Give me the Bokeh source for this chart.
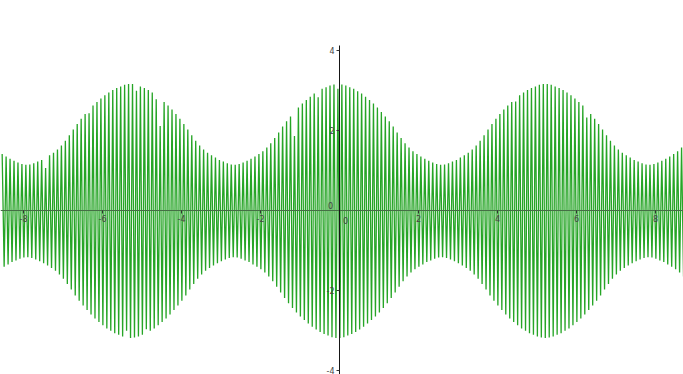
import numpy as np
from bokeh.plotting import figure
from bokeh.models import Range1d, FixedTicker, Label
from bokeh.embed import file_html
from bokeh.resources import INLINE

# ---- data ----
x_ticks = [-8, -6, -4, -2, 2, 4, 6, 8]
y_ticks = [-4, -2, 2, 4]

# the curve oscillates quickly: successive upper tips every 0.1 units,
# lower tips half-way in between
tip_start = -8.54
tip_step = 0.1

top_tips = [
    1.40, 1.34, 1.28, 1.23, 1.19, 1.15, 1.13, 1.14, 1.17, 1.21,
    1.25, 1.05, 1.37, 1.43, 1.51, 1.61, 1.73, 1.87, 2.01, 2.15,
    2.28, 2.40, 2.42, 2.61, 2.70, 2.79, 2.87, 2.94, 3.00, 3.05,
    3.09, 3.13, 3.15, 3.15, 2.98, 3.09, 3.05, 3.00, 2.94, 2.77,
    2.10, 2.70, 2.61, 2.51, 2.40, 2.28, 2.15, 2.01, 1.87, 1.73,
    1.61, 1.51, 1.43, 1.37, 1.31, 1.25, 1.21, 1.17, 1.14, 1.13,
    1.15, 1.19, 1.23, 1.28, 1.34, 1.40, 1.47, 1.56, 1.67, 1.80,
    1.94, 2.09, 2.22, 2.34, 1.85, 2.56, 2.66, 2.75, 2.83, 2.91,
    2.82, 3.03, 3.07, 3.11, 3.14, 3.03, 3.14, 3.11, 3.07, 3.03,
    2.97, 2.91, 2.83, 2.75, 2.66, 2.56, 2.45, 2.34, 2.22, 2.09,
    1.94, 1.80, 1.67, 1.56, 1.47, 1.40, 1.34, 1.28, 1.23, 1.19,
    1.15, 1.13, 1.14, 1.17, 1.21, 1.25, 1.31, 1.37, 1.43, 1.51,
    1.61, 1.73, 1.87, 2.01, 2.15, 2.28, 2.40, 2.51, 2.61, 2.70,
    2.71, 2.87, 2.94, 3.00, 3.05, 3.09, 3.13, 3.15, 3.15, 3.13,
    3.09, 3.05, 3.00, 2.94, 2.87, 2.79, 2.70, 2.61, 2.31, 2.40,
    2.28, 2.15, 2.01, 1.87, 1.73, 1.61, 1.51, 1.43, 1.37, 1.31,
    1.25, 1.21, 1.17, 1.14, 1.13, 1.15, 1.19, 1.23, 1.28, 1.34,
    1.40, 1.47, 1.56,
]

bottom_tips = [
    -1.42, -1.36, -1.30, -1.26, -1.22, -1.19, -1.18, -1.20, -1.24, -1.28,
    -1.33, -1.39, -1.45, -1.52, -1.61, -1.72, -1.85, -1.99, -2.14, -2.27,
    -2.39, -2.50, -2.61, -2.71, -2.80, -2.88, -2.96, -3.02, -3.08, -3.12,
    -3.16, -3.02, -3.20, -3.19, -3.16, -3.12, -2.98, -3.02, -2.96, -2.88,
    -2.80, -2.71, -2.61, -2.50, -2.39, -2.27, -2.14, -1.99, -1.85, -1.72,
    -1.61, -1.52, -1.45, -1.39, -1.33, -1.28, -1.24, -1.20, -1.18, -1.19,
    -1.22, -1.26, -1.30, -1.36, -1.42, -1.48, -1.56, -1.66, -1.78, -1.92,
    -2.06, -2.20, -2.33, -2.45, -2.56, -2.66, -2.75, -2.84, -2.92, -2.99,
    -3.05, -3.10, -3.14, -3.18, -3.20, -3.20, -3.18, -3.14, -3.10, -3.05,
    -2.99, -2.92, -2.84, -2.75, -2.66, -2.56, -2.45, -2.33, -2.20, -2.06,
    -1.92, -1.78, -1.66, -1.56, -1.48, -1.42, -1.36, -1.30, -1.26, -1.22,
    -1.19, -1.18, -1.20, -1.24, -1.28, -1.33, -1.39, -1.45, -1.52, -1.61,
    -1.72, -1.85, -1.99, -2.14, -2.27, -2.39, -2.50, -2.61, -2.71, -2.80,
    -2.88, -2.96, -3.02, -3.08, -3.12, -3.16, -3.19, -3.20, -3.19, -3.16,
    -3.12, -3.08, -3.02, -2.96, -2.88, -2.80, -2.71, -2.61, -2.50, -2.39,
    -2.27, -2.14, -1.99, -1.85, -1.72, -1.61, -1.52, -1.45, -1.39, -1.33,
    -1.28, -1.24, -1.20, -1.18, -1.19, -1.22, -1.26, -1.30, -1.36, -1.42,
    -1.48, -1.56, -1.66,
]

# ---- assemble the zig-zag polyline ----
n = len(top_tips)
top_x = tip_start + tip_step * np.arange(n)
bot_x = top_x + tip_step / 2
xs = np.empty(2 * n)
ys = np.empty(2 * n)
xs[0::2] = top_x
xs[1::2] = bot_x
ys[0::2] = top_tips
ys[1::2] = bottom_tips

p = figure(
    width=683, height=374,
    x_range=Range1d(-8.582, 8.709),
    y_range=Range1d(-4.1125, 5.2375),
    output_backend="svg", toolbar_location=None,
    min_border=0,
)
p.background_fill_color = "white"
p.border_fill_color = "white"
p.outline_line_color = None
p.grid.visible = False

p.line(xs, ys, line_color="#26a526", line_width=1.3, line_join="miter")

FONT = "DejaVu Sans"
LABEL_COLOR = "#444444"

p.xaxis.fixed_location = 0
p.xaxis.ticker = FixedTicker(ticks=x_ticks)
p.xaxis.major_label_overrides = {t: str(t) for t in x_ticks}
p.xaxis.axis_line_color = "#456f45"
p.xaxis.axis_line_width = 1
p.xaxis.major_tick_line_color = "#333333"
p.xaxis.major_tick_out = 3
p.xaxis.major_tick_in = 0
p.xaxis.minor_tick_line_color = None
p.xaxis.major_label_standoff = 2
p.xaxis.major_label_text_font = FONT
p.xaxis.major_label_text_font_size = "8px"
p.xaxis.major_label_text_color = LABEL_COLOR

p.yaxis.fixed_location = 0
p.yaxis.ticker = FixedTicker(ticks=y_ticks)
p.yaxis.major_label_overrides = {t: str(t) for t in y_ticks}
p.yaxis.bounds = (-4.3, 4.12)
p.yaxis.axis_line_color = "#151515"
p.yaxis.axis_line_width = 1
p.yaxis.major_tick_line_color = "#333333"
p.yaxis.major_tick_out = 3
p.yaxis.major_tick_in = 0
p.yaxis.minor_tick_line_color = None
p.yaxis.major_label_standoff = 2
p.yaxis.major_label_text_font = FONT
p.yaxis.major_label_text_font_size = "8px"
p.yaxis.major_label_text_color = LABEL_COLOR

# origin labels, placed as in the reference
p.add_layout(Label(x=0, y=0, text="0", x_offset=6, y_offset=-10,
                   text_align="center", text_baseline="middle",
                   text_font=FONT, text_font_size="8px", text_color=LABEL_COLOR))
p.add_layout(Label(x=0, y=0, text="0", x_offset=-9, y_offset=5,
                   text_align="center", text_baseline="middle",
                   text_font=FONT, text_font_size="8px", text_color=LABEL_COLOR))

open("out.html", "w").write(file_html(p, INLINE))
